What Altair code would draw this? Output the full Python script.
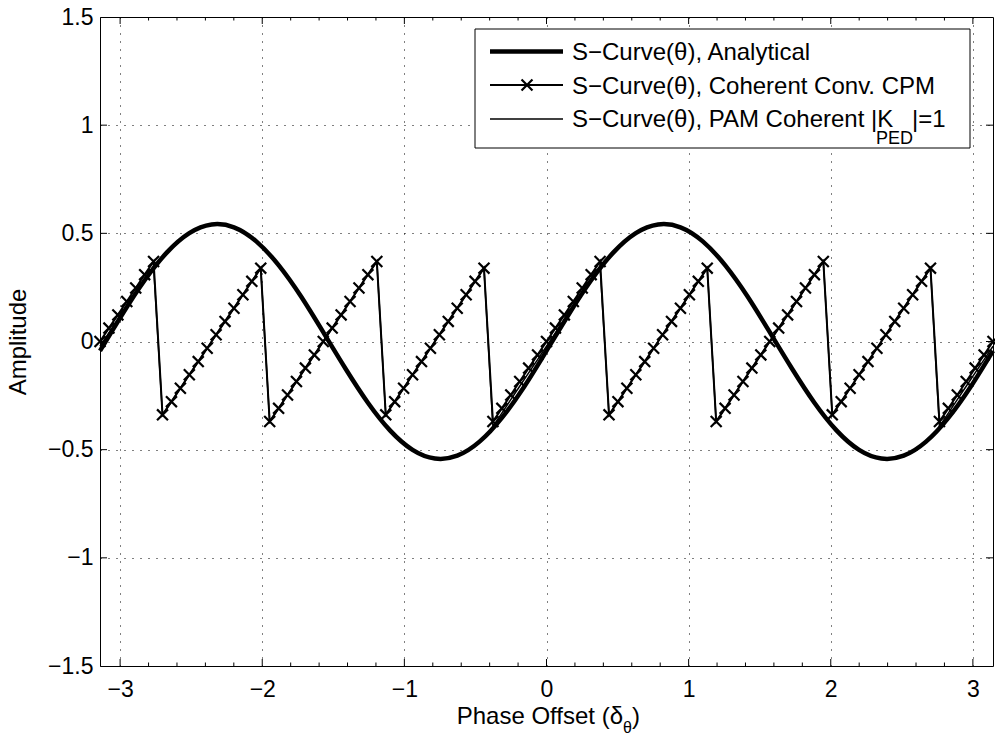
import altair as alt
import pandas as pd

W, H = 893, 649
FONT = "Liberation Sans"

# ---- data ----
ana_x = [-3.1416, -2.9845, -2.8274, -2.6704, -2.5133, -2.3562, -2.1991, -2.0420, -1.8850, -1.7279,
         -1.5708, -1.4137, -1.2566, -1.0996, -0.9425, -0.7854, -0.6283, -0.4712, -0.3142, -0.1571,
         0.0, 0.1571, 0.3142, 0.4712, 0.6283, 0.7854, 0.9425, 1.0996, 1.2566, 1.4137,
         1.5708, 1.7279, 1.8850, 2.0420, 2.1991, 2.3562, 2.5133, 2.6704, 2.8274, 2.9845, 3.1416]
ana_y = [-0.043, 0.126, 0.283, 0.412, 0.501, 0.541, 0.528, 0.463, 0.353, 0.209,
         0.043, -0.126, -0.283, -0.412, -0.501, -0.541, -0.528, -0.463, -0.353, -0.209,
         -0.043, 0.126, 0.283, 0.412, 0.501, 0.541, 0.528, 0.463, 0.353, 0.209,
         0.043, -0.126, -0.283, -0.412, -0.501, -0.541, -0.528, -0.463, -0.353, -0.209, -0.043]

cpm_x = [-3.1416, -3.0788, -3.0159, -2.9531, -2.8903, -2.8274, -2.7646, -2.7018, -2.6389, -2.5761,
         -2.5133, -2.4504, -2.3876, -2.3248, -2.2619, -2.1991, -2.1363, -2.0735, -2.0106, -1.9478,
         -1.8850, -1.8221, -1.7593, -1.6965, -1.6336, -1.5708, -1.5080, -1.4451, -1.3823, -1.3195,
         -1.2566, -1.1938, -1.1310, -1.0681, -1.0053, -0.9425, -0.8796, -0.8168, -0.7540, -0.6912,
         -0.6283, -0.5655, -0.5027, -0.4398, -0.3770, -0.3142, -0.2513, -0.1885, -0.1257, -0.0628,
         0.0, 0.0628, 0.1257, 0.1885, 0.2513, 0.3142, 0.3770, 0.4398, 0.5027, 0.5655,
         0.6283, 0.6912, 0.7540, 0.8168, 0.8796, 0.9425, 1.0053, 1.0681, 1.1310, 1.1938,
         1.2566, 1.3195, 1.3823, 1.4451, 1.5080, 1.5708, 1.6336, 1.6965, 1.7593, 1.8221,
         1.8850, 1.9478, 2.0106, 2.0735, 2.1363, 2.1991, 2.2619, 2.3248, 2.3876, 2.4504,
         2.5133, 2.5761, 2.6389, 2.7018, 2.7646, 2.8274, 2.8903, 2.9531, 3.0159, 3.0788, 3.1416]

cpm_y = [0.000, 0.062, 0.123, 0.185, 0.247, 0.309, 0.370,
         -0.339, -0.278, -0.216, -0.154, -0.093, -0.031, 0.031, 0.093, 0.154, 0.216, 0.278, 0.339,
         -0.370, -0.309, -0.247, -0.185, -0.123, -0.062, 0.000, 0.062, 0.123, 0.185, 0.247, 0.309, 0.370,
         -0.339, -0.278, -0.216, -0.154, -0.093, -0.031, 0.031, 0.093, 0.154, 0.216, 0.278, 0.339,
         -0.370, -0.309, -0.247, -0.185, -0.123, -0.062, 0.000, 0.062, 0.123, 0.185, 0.247, 0.309, 0.370,
         -0.339, -0.278, -0.216, -0.154, -0.093, -0.031, 0.031, 0.093, 0.154, 0.216, 0.278, 0.339,
         -0.370, -0.309, -0.247, -0.185, -0.123, -0.062, 0.000, 0.062, 0.123, 0.185, 0.247, 0.309, 0.370,
         -0.339, -0.278, -0.216, -0.154, -0.093, -0.031, 0.031, 0.093, 0.154, 0.216, 0.278, 0.339,
         -0.370, -0.309, -0.247, -0.185, -0.123, -0.062, 0.000]

pam_y = [-0.022, 0.040, 0.101, 0.163, 0.225, 0.287, 0.348,
         -0.339, -0.278, -0.216, -0.154, -0.093, -0.031, 0.031, 0.093, 0.154, 0.216, 0.278, 0.339,
         -0.370, -0.309, -0.247, -0.185, -0.123, -0.062, 0.000, 0.062, 0.123, 0.185, 0.247, 0.309, 0.370,
         -0.339, -0.278, -0.216, -0.154, -0.093, -0.031, 0.031, 0.093, 0.154, 0.216, 0.278, 0.339,
         -0.392, -0.331, -0.269, -0.207, -0.145, -0.084, -0.022, 0.040, 0.101, 0.163, 0.225, 0.287, 0.348,
         -0.339, -0.278, -0.216, -0.154, -0.093, -0.031, 0.031, 0.093, 0.154, 0.216, 0.278, 0.339,
         -0.370, -0.309, -0.247, -0.185, -0.123, -0.062, 0.000, 0.062, 0.123, 0.185, 0.247, 0.309, 0.370,
         -0.339, -0.278, -0.216, -0.154, -0.093, -0.031, 0.031, 0.093, 0.154, 0.216, 0.278, 0.339,
         -0.392, -0.331, -0.269, -0.207, -0.145, -0.084, -0.022]

x_ticks = [-3, -2, -1, 0, 1, 2, 3]
x_minor = [-2.8, -2.6, -2.4, -2.2, -1.8, -1.6, -1.4, -1.2, -0.8, -0.6, -0.4, -0.2,
           0.2, 0.4, 0.6, 0.8, 1.2, 1.4, 1.6, 1.8, 2.2, 2.4, 2.6, 2.8]
y_ticks = [-1.5, -1, -0.5, 0, 0.5, 1, 1.5]
y_inner = [-1, -0.5, 0, 0.5, 1]

legend_labels = ["S\u2212Curve(\u03b8), Analytical",
                 "S\u2212Curve(\u03b8), Coherent Conv. CPM",
                 "S\u2212Curve(\u03b8), PAM Coherent |K"]

# ---- scales / axes ----
xs = alt.Scale(domain=[-3.1416, 3.1416], nice=False, zero=False)
ys = alt.Scale(domain=[-1.5, 1.5], nice=False, zero=False)
xax = alt.Axis(values=x_ticks, grid=True, gridDash=[1, 7], gridColor="black", gridWidth=1,
               gridOpacity=1, ticks=False, tickSize=0, domain=False, labelFont=FONT,
               labelFontSize=23, labelColor="black", labelPadding=12, title=None, format="~f")
yax = alt.Axis(values=y_ticks, grid=True, gridDash=[1, 7], gridColor="black", gridWidth=1,
               gridOpacity=1, ticks=False, tickSize=0, domain=False, labelFont=FONT,
               labelFontSize=23, labelColor="black", labelPadding=7, title=None, format=".1~f")

df_a = pd.DataFrame({"x": ana_x, "y": ana_y})
df_c = pd.DataFrame({"x": cpm_x, "y": cpm_y})
df_p = pd.DataFrame({"x": cpm_x, "y": pam_y})

X = alt.X("x:Q", scale=xs, axis=xax)
Y = alt.Y("y:Q", scale=ys, axis=yax)

XPATH = "M-1,-1L1,1M-1,1L1,-1"

analytical = alt.Chart(df_a).mark_line(color="black", strokeWidth=4.5, interpolate="natural").encode(x=X, y=Y)
cpm_line = alt.Chart(df_c).mark_line(color="black", strokeWidth=2).encode(x=X, y=Y)
cpm_pts = alt.Chart(df_c).mark_point(shape=XPATH, size=120, strokeWidth=2.2, color="black",
                                     filled=False, opacity=1).encode(x=X, y=Y)
pam_line = alt.Chart(df_p).mark_line(color="black", strokeWidth=1.5).encode(x=X, y=Y)

# ---- inside ticks ----
def xtick_layer(vals, y0, y1):
    return alt.Chart(pd.DataFrame({"x": vals})).mark_rule(color="black", strokeWidth=1).encode(
        x=X, y=alt.value(y0), y2=alt.value(y1))

def ytick_layer(vals, x0, x1):
    return alt.Chart(pd.DataFrame({"y": vals})).mark_rule(color="black", strokeWidth=1).encode(
        y=Y, x=alt.value(x0), x2=alt.value(x1))

ticks = [xtick_layer(x_ticks, H, H - 7), xtick_layer(x_ticks, 0, 7),
         xtick_layer(x_minor, H, H - 3.5), xtick_layer(x_minor, 0, 3.5),
         ytick_layer(y_inner, 0, 7), ytick_layer(y_inner, W, W - 7)]

one = pd.DataFrame({"k": [0]})

def text(t, x, y, size, align="left", angle=0, baseline="alphabetic"):
    return alt.Chart(one).mark_text(text=t, font=FONT, fontSize=size, color="black", align=align,
                                    baseline=baseline, angle=angle).encode(
        x=alt.value(x), y=alt.value(y))

# ---- axis titles ----
titles = [text("Phase Offset (\u03b4", 523, 707, 24, align="right"),
          text("\u03b8", 523, 716, 16),
          text(")", 532, 707, 24),
          text("Amplitude", -74, 325, 24, align="center", angle=270)]

# ---- legend ----
LX0, LX1, LY0, LY1 = 375, 870, 12, 131
rows = [34.5, 68, 102]
base = [43, 76.5, 110]
legend = [
    alt.Chart(one).mark_rect(fill="white", stroke="black", strokeWidth=1).encode(
        x=alt.value(LX0), x2=alt.value(LX1), y=alt.value(LY0), y2=alt.value(LY1)),
    alt.Chart(one).mark_rule(color="black", strokeWidth=4.5).encode(
        x=alt.value(390), x2=alt.value(463), y=alt.value(rows[0])),
    alt.Chart(one).mark_rule(color="black", strokeWidth=2).encode(
        x=alt.value(390), x2=alt.value(463), y=alt.value(rows[1])),
    alt.Chart(one).mark_point(shape=XPATH, size=120, strokeWidth=2.2, color="black", filled=False,
                              opacity=1).encode(x=alt.value(427), y=alt.value(rows[1])),
    alt.Chart(one).mark_rule(color="black", strokeWidth=1.5).encode(
        x=alt.value(390), x2=alt.value(463), y=alt.value(rows[2])),
    text(legend_labels[0], 472, base[0], 24),
    text(legend_labels[1], 472, base[1], 24),
    text(legend_labels[2], 472, base[2], 24),
    text("PED", 776, 127, 18),
    text("|=1", 812, base[2], 24),
]

chart = alt.layer(analytical, cpm_line, cpm_pts, pam_line, *ticks, *titles, *legend).properties(
    width=W, height=H, autosize="none",
    padding={"left": 100, "top": 17, "right": 2, "bottom": 72},
    background="white",
).configure_view(stroke="black", strokeWidth=1)

chart.save("out.html", embed_options={"renderer": "svg", "actions": False})
